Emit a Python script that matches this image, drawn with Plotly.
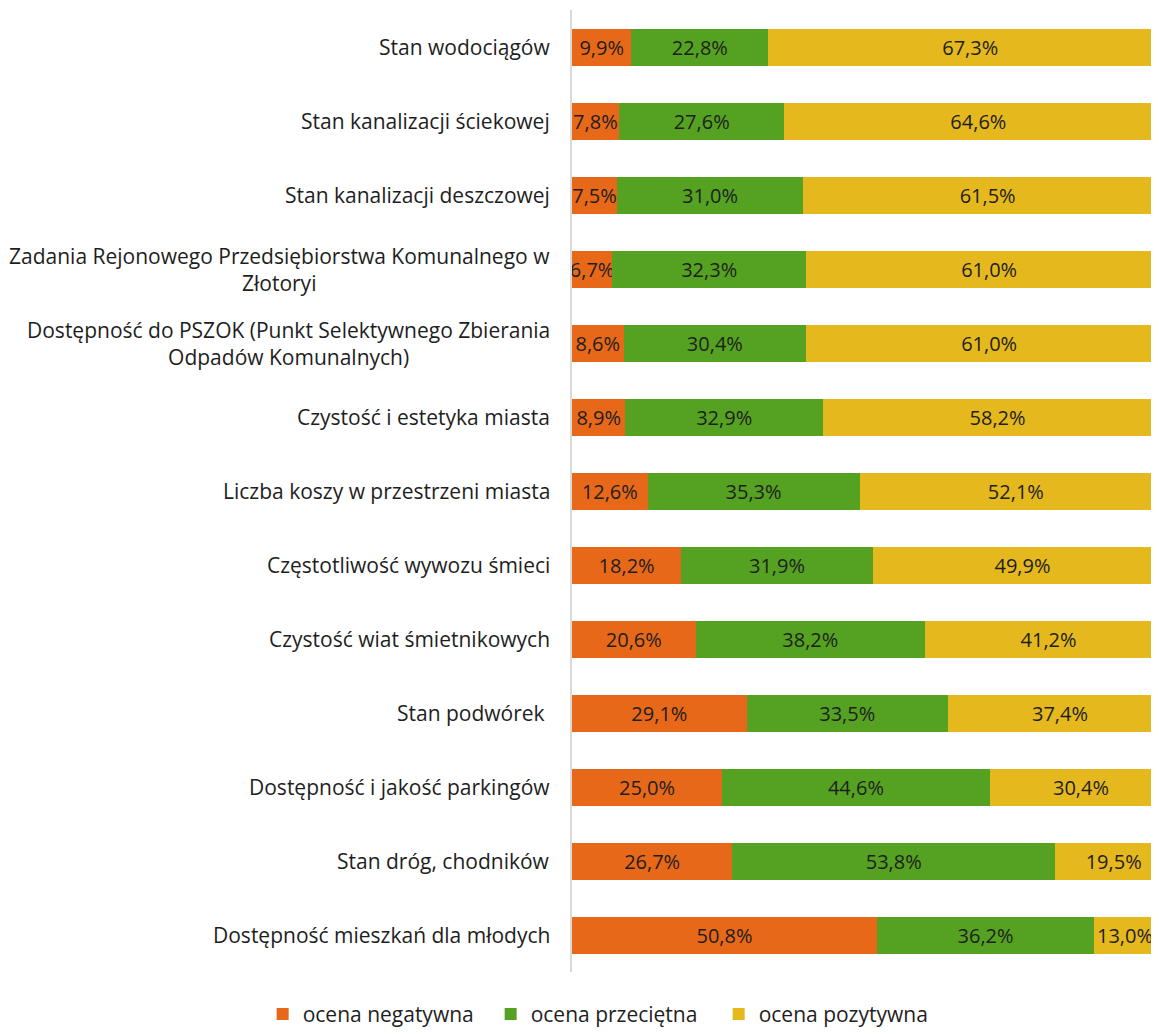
import plotly.graph_objects as go

categories = [
    "Stan wodociągów",
    "Stan kanalizacji ściekowej",
    "Stan kanalizacji deszczowej",
    "Zadania Rejonowego Przedsiębiorstwa Komunalnego w<br>Złotoryi",
    "Dostępność do PSZOK (Punkt Selektywnego Zbierania<br>Odpadów Komunalnych)",
    "Czystość i estetyka miasta",
    "Liczba koszy w przestrzeni miasta",
    "Częstotliwość wywozu śmieci",
    "Czystość wiat śmietnikowych",
    "Stan podwórek ",
    "Dostępność i jakość parkingów",
    "Stan dróg, chodników",
    "Dostępność mieszkań dla młodych",
]
negatywna = [9.9, 7.8, 7.5, 6.7, 8.6, 8.9, 12.6, 18.2, 20.6, 29.1, 25.0, 26.7, 50.8]
przecietna = [22.8, 27.6, 31.0, 32.3, 30.4, 32.9, 35.3, 31.9, 38.2, 33.5, 44.6, 53.8, 36.2]
pozytywna = [67.3, 64.6, 61.5, 61.0, 61.0, 58.2, 52.1, 49.9, 41.2, 37.4, 30.4, 19.5, 13.0]

series = [
    ("ocena negatywna", negatywna, "#E8681A"),
    ("ocena przeciętna", przecietna, "#55A222"),
    ("ocena pozytywna", pozytywna, "#E5B81E"),
]

FONT = "Open Sans"
TXT = "#1E1E1E"
ids = list(range(len(categories)))


def fmt(v):
    return f"{v:.1f}".replace(".", ",") + "%"


fig = go.Figure()
last = len(categories) - 1
for k, (name, vals, color) in enumerate(series):
    texts = [fmt(v) for v in vals]
    if k == 2:
        # the last yellow bar runs past the visible edge; its label is left-anchored below
        texts[last] = ""
    fig.add_trace(go.Bar(
        y=ids, x=vals, name=name, orientation="h",
        marker=dict(color=color, line=dict(width=0)),
        text=texts, texttemplate="%{text}",
        textposition="inside", insidetextanchor="middle", textangle=0,
        constraintext="none",
        textfont=dict(family=FONT, size=20, color=TXT),
        hoverinfo="skip",
    ))

fig.add_annotation(
    xref="x", yref="y", x=negatywna[last] + przecietna[last], y=last,
    text=fmt(pozytywna[last]), showarrow=False, xanchor="left", xshift=1,
    font=dict(family=FONT, size=20, color=TXT),
)

for i, c in zip(ids, categories):
    fig.add_annotation(
        xref="paper", yref="y", x=0, y=i, text=c, showarrow=False,
        xanchor="right", yanchor="middle", align="center", xshift=-20,
        font=dict(family=FONT, size=21, color=TXT),
    )

fig.update_layout(
    width=1151, height=1026,
    barmode="stack", bargap=0.5,
    paper_bgcolor="white", plot_bgcolor="white",
    margin=dict(l=564, r=0, t=2, b=62, autoexpand=False),
    font=dict(family=FONT, size=20, color=TXT),
    xaxis=dict(range=[0, 97.8], showgrid=False, zeroline=False,
               showticklabels=False, showline=False),
    yaxis=dict(showticklabels=False, showgrid=False,
               zeroline=False, showline=True, linecolor="#D9D9D9", linewidth=2,
               range=[len(categories) - 0.5, -0.5]),
    legend=dict(orientation="h", xref="paper", x=-0.527, xanchor="left",
                yref="paper", y=-0.044, yanchor="middle",
                font=dict(family=FONT, size=21, color=TXT),
                traceorder="normal", itemwidth=30, entrywidth=183,
                entrywidthmode="pixels"),
    showlegend=True,
)

fig.write_html("out.html")
